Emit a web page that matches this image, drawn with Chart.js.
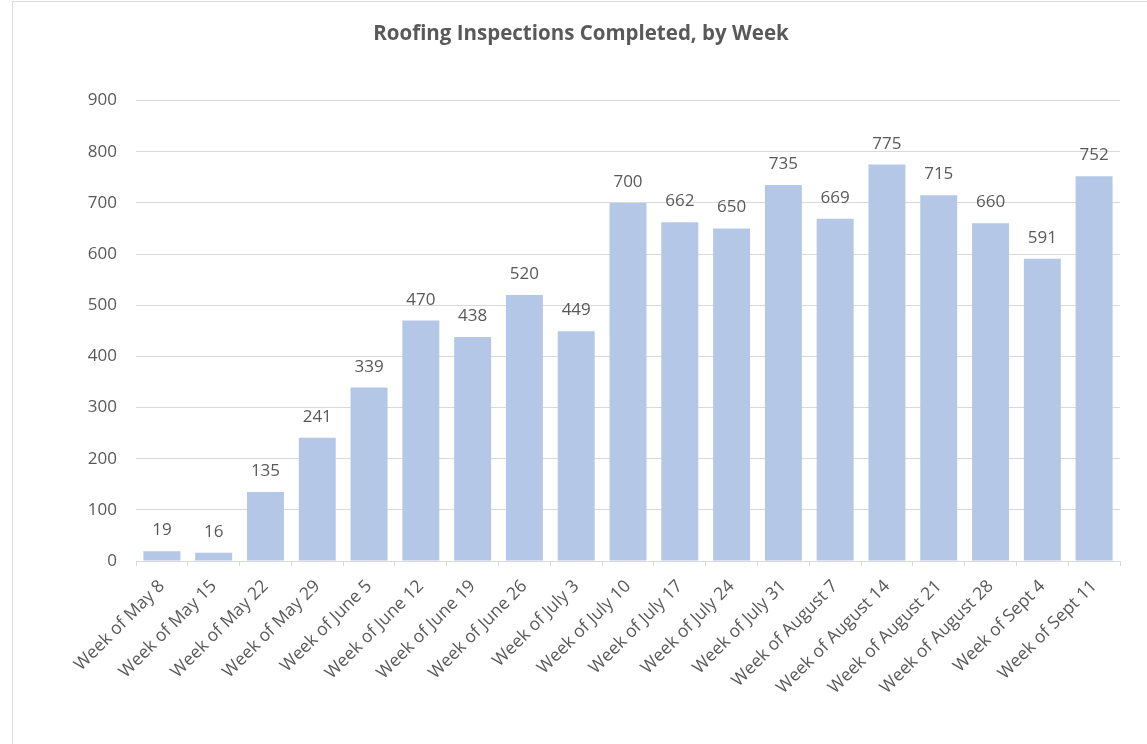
<!DOCTYPE html>
<html>
<head>
<meta charset="utf-8">
<title>Roofing Inspections Completed, by Week</title>
<script src="https://cdn.jsdelivr.net/npm/chart.js"></script>
<style>
    html, body { margin: 0; padding: 0; background: #fff; overflow: hidden; }
    #frame {
        position: absolute; left: 12px; top: 1px;
        width: 1150px; height: 760px;
        border: 1px solid #d9d9d9;
    }
    #chart { display: block; }
</style>
</head>
<body>
<div id="frame"><canvas id="chart" width="1150" height="745"></canvas></div>
<script>
// chart data
const weeks = [
    'Week of May 8', 'Week of May 15', 'Week of May 22', 'Week of May 29',
    'Week of June 5', 'Week of June 12', 'Week of June 19', 'Week of June 26',
    'Week of July 3', 'Week of July 10', 'Week of July 17', 'Week of July 24',
    'Week of July 31', 'Week of August 7', 'Week of August 14', 'Week of August 21',
    'Week of August 28', 'Week of Sept 4', 'Week of Sept 11'
];
const inspections = [19, 16, 135, 241, 339, 470, 438, 520, 449, 700, 662, 650, 735, 669, 775, 715, 660, 591, 752];
const yTicks = [0, 100, 200, 300, 400, 500, 600, 700, 800, 900];

const textColor = '#595959';
const lineColor = '#d9d9d9';
const barColor = '#b4c7e7';
const fontFamily = '"Open Sans", "Noto Sans", sans-serif';

// draws the number above each bar
const valueLabels = {
    id: 'valueLabels',
    afterDatasetsDraw(chart) {
        const ctx = chart.ctx;
        const meta = chart.getDatasetMeta(0);
        ctx.save();
        ctx.fillStyle = textColor;
        ctx.font = '17px ' + fontFamily;
        ctx.textAlign = 'center';
        ctx.textBaseline = 'alphabetic';
        meta.data.forEach((bar, i) => {
            ctx.fillText(String(chart.data.datasets[0].data[i]), bar.x, bar.y - 16);
        });
        ctx.restore();
    }
};

const ctx = document.getElementById('chart').getContext('2d');
new Chart(ctx, {
    type: 'bar',
    data: {
        labels: weeks,
        datasets: [{
            label: 'Inspections',
            data: inspections,
            backgroundColor: barColor,
            borderWidth: 0,
            barPercentage: 0.714,
            categoryPercentage: 1.0
        }]
    },
    options: {
        responsive: false,
        animation: false,
        // left padding shifts the centred title right; y axis width compensates
        layout: { padding: { left: 29, right: 43, top: 0, bottom: 0 } },
        plugins: {
            legend: { display: false },
            tooltip: { enabled: false },
            title: {
                display: true,
                text: 'Roofing Inspections Completed, by Week',
                color: textColor,
                font: { family: fontFamily, size: 20.5, weight: 'bold' },
                padding: { top: 20, bottom: 54 }
            }
        },
        scales: {
            x: {
                offset: true,
                grid: { drawOnChartArea: false, drawTicks: true, tickLength: 5, color: lineColor, offset: true },
                border: { color: lineColor, width: 1 },
                ticks: {
                    color: textColor,
                    font: { family: fontFamily, size: 17.5 },
                    minRotation: 45,
                    maxRotation: 45,
                    autoSkip: false,
                    padding: 10
                },
                afterFit(scale) { scale.height = 186; }
            },
            y: {
                min: 0,
                max: 900,
                afterBuildTicks(scale) { scale.ticks = yTicks.map(v => ({ value: v })); },
                grid: { color: lineColor, drawTicks: false },
                border: { display: false },
                ticks: {
                    color: textColor,
                    font: { family: fontFamily, size: 17 },
                    padding: 19
                },
                afterFit(scale) { scale.width = 94; }
            }
        }
    },
    plugins: [valueLabels]
});
</script>
</body>
</html>
